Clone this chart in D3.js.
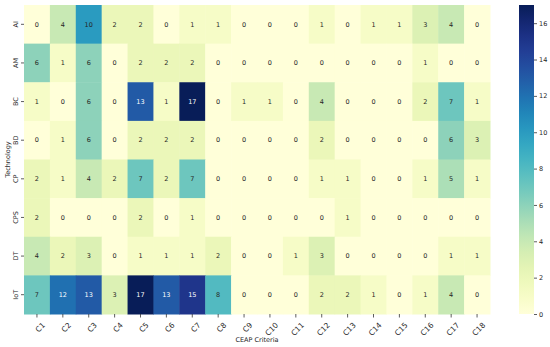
<!DOCTYPE html>
<html>
<head>
<meta charset="utf-8">
<script src="https://cdn.jsdelivr.net/npm/d3@7"></script>
<style>
  body { margin: 0; background: #fff; }
  text { font-family: "DejaVu Sans", sans-serif; }
</style>
</head>
<body>
<div class="heatmap_Container"></div>
<script>
// rows and columns of the heatmap
const technologies = ['AI', 'AM', 'BC', 'BD', 'CP', 'CPS', 'DT', 'IoT'];
const criteria = ['C1','C2','C3','C4','C5','C6','C7','C8','C9','C10','C11','C12','C13','C14','C15','C16','C17','C18'];

// one list per technology, values by criterion
const rowAI  = [0, 4, 10, 2, 2, 0, 1, 1, 0, 0, 0, 1, 0, 1, 1, 3, 4, 0];
const rowAM  = [6, 1, 6, 0, 2, 2, 2, 0, 0, 0, 0, 0, 0, 0, 0, 1, 0, 0];
const rowBC  = [1, 0, 6, 0, 13, 1, 17, 0, 1, 1, 0, 4, 0, 0, 0, 2, 7, 1];
const rowBD  = [0, 1, 6, 0, 2, 2, 2, 0, 0, 0, 0, 2, 0, 0, 0, 0, 6, 3];
const rowCP  = [2, 1, 4, 2, 7, 2, 7, 0, 0, 0, 0, 1, 1, 0, 0, 1, 5, 1];
const rowCPS = [2, 0, 0, 0, 2, 0, 1, 0, 0, 0, 0, 0, 1, 0, 0, 0, 0, 0];
const rowDT  = [4, 2, 3, 0, 1, 1, 1, 2, 0, 0, 1, 3, 0, 0, 0, 0, 1, 1];
const rowIoT = [7, 12, 13, 3, 17, 13, 15, 8, 0, 0, 0, 2, 2, 1, 0, 1, 4, 0];

const colorbarTicks = [0, 2, 4, 6, 8, 10, 12, 14, 16];

const rows = [rowAI, rowAM, rowBC, rowBD, rowCP, rowCPS, rowDT, rowIoT];
const cells = [];
rows.forEach((r, i) => r.forEach((v, j) => cells.push({tech: technologies[i], crit: criteria[j], value: v})));

const W = 550, H = 347;
const plot = {left: 24, right: 490, top: 5, bottom: 314};

const svg = d3.select('.heatmap_Container')
  .append('svg')
  .attr('width', W)
  .attr('height', H);

const x = d3.scaleBand().domain(criteria).range([plot.left, plot.right]);
const y = d3.scaleBand().domain(technologies).range([plot.top, plot.bottom]);

const vmax = d3.max(cells, d => d.value);
const color = d3.scaleSequential(d3.interpolateYlGnBu).domain([0, vmax]);

// cells
svg.selectAll('.cell')
  .data(cells)
  .enter()
  .append('rect')
  .attr('class', 'cell')
  .attr('x', d => x(d.crit))
  .attr('y', d => y(d.tech))
  .attr('width', x.bandwidth() + 0.5)
  .attr('height', y.bandwidth() + 0.5)
  .attr('fill', d => color(d.value));

// annotations, white on the dark cells
svg.selectAll('.annot')
  .data(cells)
  .enter()
  .append('text')
  .attr('class', 'annot')
  .attr('x', d => x(d.crit) + x.bandwidth() / 2)
  .attr('y', d => y(d.tech) + y.bandwidth() / 2)
  .attr('dy', '0.35em')
  .attr('text-anchor', 'middle')
  .attr('font-size', 6.5)
  .attr('fill', d => {
    const c = d3.rgb(color(d.value));
    const lum = 0.2126 * c.r + 0.7152 * c.g + 0.0722 * c.b;
    return lum < 105 ? '#fff' : '#262626';
  })
  .text(d => d.value);

// x axis
const xAxis = svg.append('g')
  .attr('transform', `translate(0, ${plot.bottom})`)
  .call(d3.axisBottom(x).tickSize(3.5).tickPadding(2));
xAxis.select('.domain').remove();
xAxis.selectAll('line').attr('stroke', '#333').attr('stroke-width', 0.8);
xAxis.selectAll('text')
  .attr('font-size', 7.5)
  .attr('fill', '#262626')
  .attr('text-anchor', 'end')
  .attr('dy', '0.35em')
  .attr('transform', 'translate(3, 6) rotate(-45)');

// y axis
const yAxis = svg.append('g')
  .attr('transform', `translate(${plot.left}, 0)`)
  .call(d3.axisLeft(y).tickSize(3).tickPadding(2));
yAxis.select('.domain').remove();
yAxis.selectAll('line').attr('stroke', '#333').attr('stroke-width', 0.8);
yAxis.selectAll('text')
  .attr('font-size', 6.5)
  .attr('fill', '#262626')
  .attr('text-anchor', 'middle')
  .attr('x', 0)
  .attr('dy', '0.35em')
  .attr('transform', 'translate(-8, 0) rotate(-90)');

// axis labels
svg.append('text')
  .attr('x', (plot.left + plot.right) / 2)
  .attr('y', 342)
  .attr('text-anchor', 'middle')
  .attr('font-size', 6.5)
  .attr('fill', '#262626')
  .text('CEAP Criteria');

svg.append('text')
  .attr('transform', `translate(9.5, ${(plot.top + plot.bottom) / 2}) rotate(-90)`)
  .attr('text-anchor', 'middle')
  .attr('font-size', 6.5)
  .attr('fill', '#262626')
  .text('Technology');

// colorbar
const cb = {x: 519, w: 15, top: plot.top, bottom: plot.bottom};
const cbScale = d3.scaleLinear().domain([0, vmax]).range([cb.bottom, cb.top]);

const defs = svg.append('defs');
const grad = defs.append('linearGradient')
  .attr('id', 'cbgrad')
  .attr('x1', 0).attr('y1', 1).attr('x2', 0).attr('y2', 0);
d3.range(0, 1.0001, 0.05).forEach(t => {
  grad.append('stop').attr('offset', t).attr('stop-color', color(t * vmax));
});

svg.append('rect')
  .attr('x', cb.x)
  .attr('y', cb.top)
  .attr('width', cb.w)
  .attr('height', cb.bottom - cb.top)
  .attr('fill', 'url(#cbgrad)');

const cbAxis = svg.append('g')
  .attr('transform', `translate(${cb.x + cb.w}, 0)`)
  .call(d3.axisRight(cbScale).tickValues(colorbarTicks).tickSize(3).tickPadding(2));
cbAxis.select('.domain').remove();
cbAxis.selectAll('line').attr('stroke', '#333').attr('stroke-width', 0.8);
cbAxis.selectAll('text').attr('font-size', 6.5).attr('fill', '#262626');
</script>
</body>
</html>
